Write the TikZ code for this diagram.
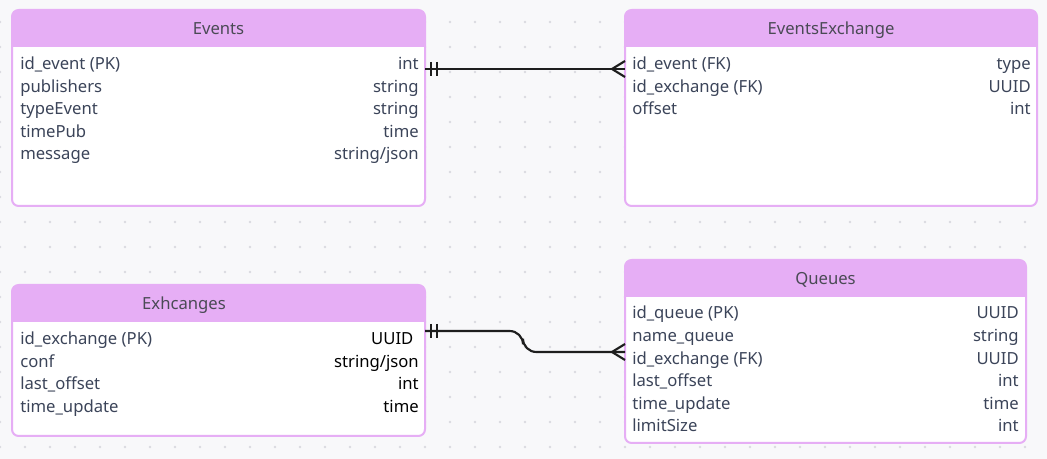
\documentclass[tikz,border=0pt]{standalone}
\usepackage{fontspec}
\setmainfont{Noto Sans}
\usetikzlibrary{positioning}

\definecolor{hdrfill}{HTML}{E6AEF5}
\definecolor{txtcol}{HTML}{3B4459}
\definecolor{hdrtxt}{HTML}{4A4A55}
\definecolor{bgcol}{HTML}{F8F8FA}
\definecolor{dotcol}{HTML}{DADAE0}
\definecolor{linkcol}{HTML}{1E1E1E}

% table frame: left, top, right, bottom, bottom of header
\newcommand{\erframe}[5]{%
	\fill[white,rounded corners=5] (#1,#2) rectangle (#3,#4);
	\fill[hdrfill] (#1,#5) [rounded corners=5] -- (#1,#2) -- (#3,#2) [sharp corners] -- (#3,#5) -- cycle;
	\draw[tblborder,rounded corners=5] (#1,#2) rectangle (#3,#4);
}

\begin{document}
\begin{tikzpicture}[x=0.75pt,y=-0.75pt,
	tblborder/.style={draw=hdrfill,line width=1.5pt},
	tbltitle/.style={anchor=base,inner sep=0pt,text=hdrtxt,font=\fontsize{12.5}{15}\selectfont},
	colname/.style={anchor=base west,inner sep=0pt,text=txtcol,font=\fontsize{12.5}{15}\selectfont},
	coltype/.style={anchor=base east,inner sep=0pt,text=txtcol,font=\fontsize{12.5}{15}\selectfont},
	link/.style={draw=linkcol,line width=1.6pt}]
	\useasboundingbox (0,0) rectangle (1047,459);
	\fill[bgcol] (0,0) rectangle (1047,459);
	\foreach \x in {0,25,...,1050}
		\foreach \y in {22,47,...,459}
			\fill[dotcol] (\x,\y) circle[radius=1pt];

	% Events
	\erframe{12}{10}{425}{206}{47}
	\node[tbltitle] (ev) at (218.5,35) {Events};
	\foreach \lbl/\typ [count=\i] in {id\_event (PK)/int, publishers/string, typeEvent/string, timePub/time, message/string\slash json}{
		\node[colname] (ev-\i-n) at (20,{70+(\i-1)*22.5}) {\lbl};
		\node[coltype] (ev-\i-t) at (419,{70+(\i-1)*22.5}) {\typ};
	}

	% EventsExchange
	\erframe{625}{10}{1037}{206}{47}
	\node[tbltitle] (eex) at (831,35) {EventsExchange};
	\foreach \lbl/\typ [count=\i] in {id\_event (FK)/type, id\_exchange (FK)/UUID, offset/int}{
		\node[colname] (eex-\i-n) at (632,{70+(\i-1)*22.5}) {\lbl};
		\node[coltype] (eex-\i-t) at (1031,{70+(\i-1)*22.5}) {\typ};
	}

	% Exhcanges
	\erframe{12}{285}{425}{436}{322}
	\node[tbltitle] (ex) at (184,310) {Exhcanges};
	\foreach \lbl/\typ [count=\i] in {id\_exchange (PK)/UUID\kern4pt, conf/string\slash json, last\_offset/int, time\_update/time}{
		\node[colname] (ex-\i-n) at (20,{345+(\i-1)*22.4}) {\lbl};
		\node[coltype,text=black] (ex-\i-t) at (419,{345+(\i-1)*22.4}) {\typ};
	}

	% Queues
	\erframe{625}{260}{1026}{443}{297}
	\node[tbltitle] (qu) at (825.5,285) {Queues};
	\foreach \lbl/\typ [count=\i] in {id\_queue (PK)/UUID, name\_queue/string, id\_exchange (FK)/UUID, last\_offset/int, time\_update/time, limitSize/int}{
		\node[colname] (qu-\i-n) at (632,{319+(\i-1)*22.6}) {\lbl};
		\node[coltype] (qu-\i-t) at (1019,{319+(\i-1)*22.6}) {\typ};
	}

	% relations
	\coordinate (ev-pk) at (425,69);
	\coordinate (eex-fk) at (625,69);
	\coordinate (ex-pk) at (425,331);
	\coordinate (qu-fk) at (625,352);

	\draw[link] (ev-pk) -- (eex-fk);
	\draw[link] (ev-pk) ++(6,-7) -- ++(0,14);
	\draw[link] (ev-pk) ++(12,-7) -- ++(0,14);
	\draw[link] (eex-fk) ++(0,-8) -- ++(-13,8) -- ++(13,8);

	\draw[link,rounded corners=10] (ex-pk) -- ++(98,0) |- (qu-fk);
	\draw[link] (ex-pk) ++(6,-7) -- ++(0,14);
	\draw[link] (ex-pk) ++(12,-7) -- ++(0,14);
	\draw[link] (qu-fk) ++(0,-8) -- ++(-13,8) -- ++(13,8);
\end{tikzpicture}
\end{document}
